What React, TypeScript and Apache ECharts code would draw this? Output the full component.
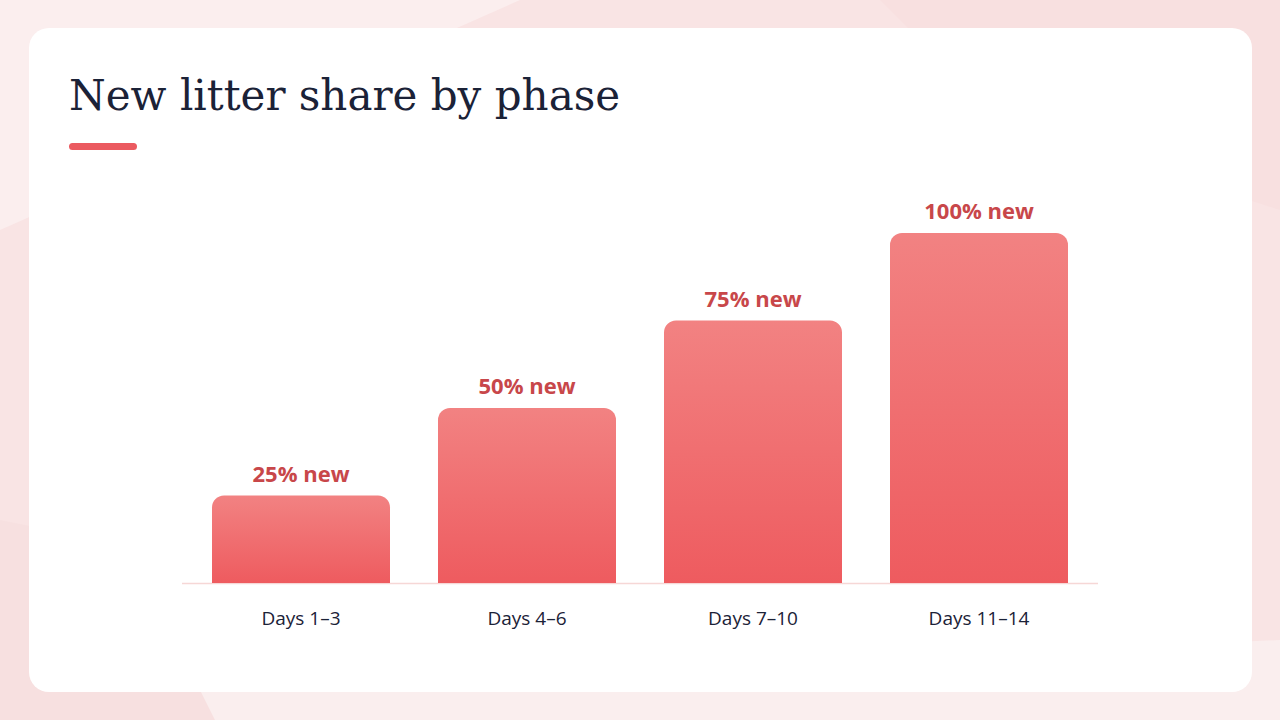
import React, { useEffect, useRef } from "react";
import * as echarts from "echarts";

const categories = ["Days 1–3", "Days 4–6", "Days 7–10", "Days 11–14"];
const values = [25, 50, 75, 100];
const labelSuffix = "% new";
const titleText = "New litter share by phase";

export default function App() {
  const ref = useRef<HTMLDivElement>(null);
  useEffect(() => {
    const chart = echarts.init(ref.current!, null, { renderer: "svg" });
    chart.setOption({
      animation: false,
      backgroundColor: "#f9e4e4",
      graphic: [
        { type: "polygon", silent: true, z: -10, shape: { points: [[0, 0], [520, 0], [0, 230]] }, style: { fill: "#fbeeee" } },
        { type: "polygon", silent: true, z: -10, shape: { points: [[880, 0], [1280, 0], [1280, 210], [1000, 120]] }, style: { fill: "#f8e0e0" } },
        { type: "polygon", silent: true, z: -10, shape: { points: [[0, 520], [200, 560], [240, 720], [0, 720]] }, style: { fill: "#f7e0e0" } },
        { type: "polygon", silent: true, z: -10, shape: { points: [[200, 690], [1280, 640], [1280, 720], [215, 720]] }, style: { fill: "#faeeee" } },
        { type: "rect", silent: true, z: -5, shape: { x: 29, y: 28, width: 1223, height: 664, r: 20 }, style: { fill: "#ffffff" } },
        { type: "text", silent: true, left: 69, top: 74, style: { text: titleText, font: "400 42px 'DejaVu Serif', serif", fill: "#1b2237" } },
        { type: "rect", silent: true, shape: { x: 69, y: 143, width: 68, height: 7, r: 3.5 }, style: { fill: "#eb5a60" } },
        { type: "line", silent: true, z: 1, shape: { x1: 182, y1: 583.5, x2: 1098, y2: 583.5 }, style: { stroke: "#f6d7d6", lineWidth: 1.5 } },
      ],
      grid: { left: 188, right: 188, top: 233, bottom: 137, containLabel: false },
      xAxis: {
        type: "category",
        data: categories,
        axisLine: { show: false },
        axisTick: { show: false },
        axisLabel: { color: "#1b2237", fontSize: 19, fontWeight: 500, fontFamily: "'Open Sans', sans-serif", margin: 25 },
      },
      yAxis: { type: "value", min: 0, max: 100, show: false, splitLine: { show: false } },
      series: [
        {
          type: "bar",
          data: values,
          barWidth: 178,
          z: 2,
          itemStyle: {
            borderRadius: [12, 12, 0, 0],
            color: new echarts.graphic.LinearGradient(0, 0, 0, 1, [
              { offset: 0, color: "#f28282" },
              { offset: 1, color: "#ee5b5f" },
            ]),
          },
          label: {
            show: true,
            position: "top",
            distance: 12,
            formatter: (p: any) => `${p.value}${labelSuffix}`,
            color: "#c8474a",
            fontSize: 22,
            fontWeight: "bold",
            fontFamily: "'Open Sans', sans-serif",
          },
        },
      ],
    });
    return () => chart.dispose();
  }, []);
  return <div ref={ref} style={{ position: "absolute", left: 0, top: 0, width: 1280, height: 720 }} />;
}
